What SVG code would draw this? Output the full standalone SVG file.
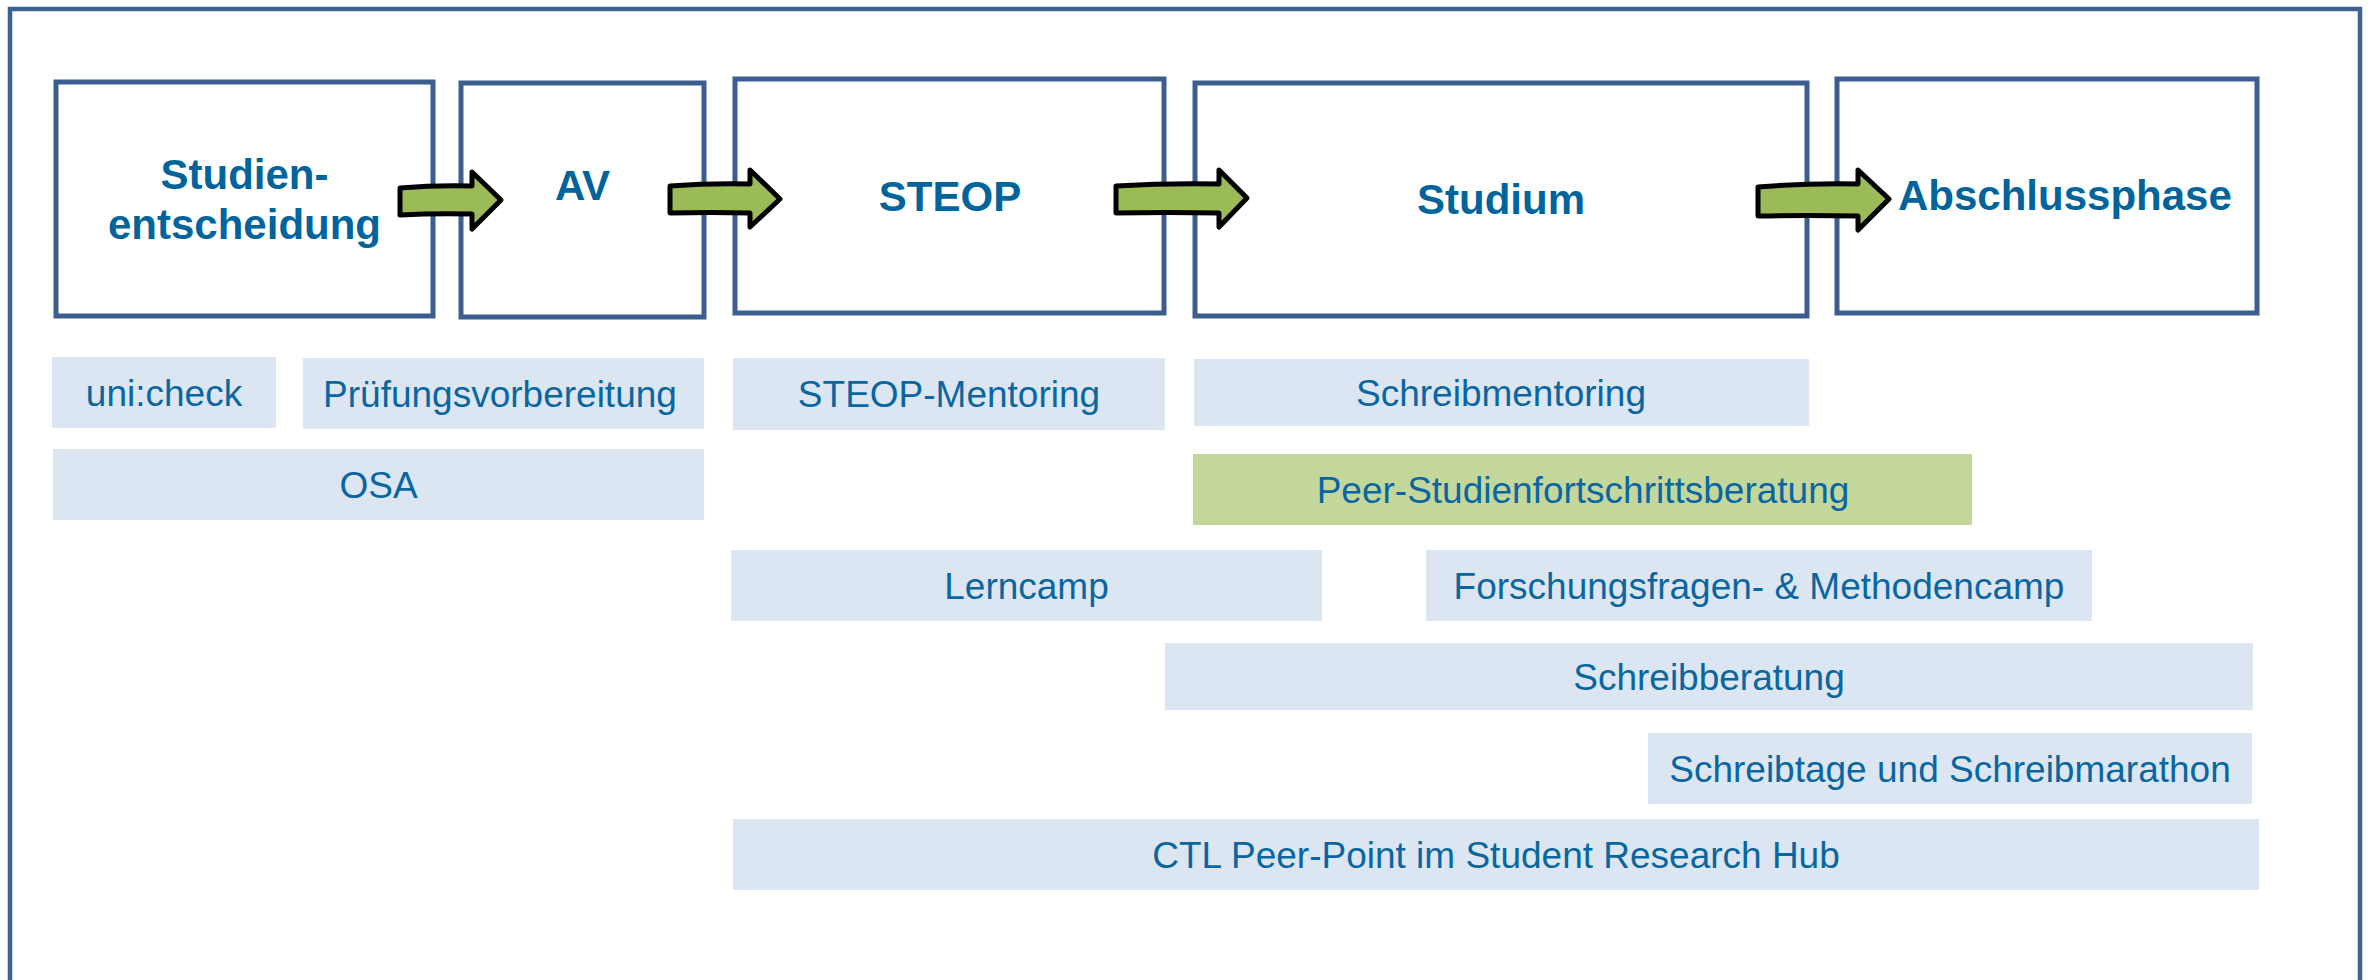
<svg xmlns="http://www.w3.org/2000/svg" width="2374" height="980" viewBox="0 0 2374 980">
<style>
.frame{fill:none;stroke:#3d6190;stroke-width:4.5}
.phase{fill:#ffffff;stroke:#3b5e8e;stroke-width:5}
.ttl{font-family:"Liberation Sans",Arial,sans-serif;font-weight:bold;font-size:42px;fill:#00649c}
.bar{fill:#dce6f2}
.bar.green{fill:#c4d79b}
.lbl{font-family:"Liberation Sans",Arial,sans-serif;font-size:37px;fill:#0a66a0;text-anchor:middle}
.arrow{fill:#9bbb59;stroke:#000000;stroke-width:5;stroke-linejoin:round}
</style>
<rect width="2374" height="980" fill="#ffffff"/>
<rect class="frame" x="10" y="9" width="2350" height="1010"/>

<g id="phase-studienentscheidung">
<rect class="phase" x="56" y="82" width="377" height="234"/>
<text class="ttl" x="244.5" y="189" text-anchor="middle">Studien-</text>
<text class="ttl" x="244.5" y="239" text-anchor="middle">entscheidung</text>
</g>
<g id="phase-av">
<rect class="phase" x="461" y="83" width="243" height="234"/>
<text class="ttl" x="582.5" y="200" text-anchor="middle">AV</text>
</g>
<g id="phase-steop">
<rect class="phase" x="735" y="79" width="429" height="234"/>
<text class="ttl" x="950" y="211" text-anchor="middle">STEOP</text>
</g>
<g id="phase-studium">
<rect class="phase" x="1195" y="83" width="612" height="233"/>
<text class="ttl" x="1501" y="214" text-anchor="middle">Studium</text>
</g>
<g id="phase-abschlussphase">
<rect class="phase" x="1837" y="79" width="420" height="234"/>
<text class="ttl" x="1898" y="210">Abschlussphase</text>
</g>

<g id="connectors">
<path class="arrow" d="M400,188 Q436,185 472,186 L472,172 L501,200 L472,229 L472,214 Q436,213 400,215 Z"/>
<path class="arrow" d="M670,186 Q710,183 750,184 L750,170 L780,199 L750,227 L750,213 Q710,212 670,213 Z"/>
<path class="arrow" d="M1116,186 Q1167,183 1219,184 L1219,170 L1247,198 L1219,227 L1219,213 Q1167,212 1116,213 Z"/>
<path class="arrow" d="M1758,187 Q1808,183 1858,184 L1858,170 L1889,199 L1858,230 L1858,216 Q1808,215 1758,216 Z"/>
</g>

<g id="offer-unicheck">
<rect class="bar" x="52" y="357" width="224" height="71"/>
<text class="lbl" x="164" y="405.5">uni:check</text>
</g>
<g id="offer-pruefungsvorbereitung">
<rect class="bar" x="303" y="358" width="401" height="71"/>
<text class="lbl" x="500" y="406.5">Prüfungsvorbereitung</text>
</g>
<g id="offer-steop-mentoring">
<rect class="bar" x="733" y="358" width="432" height="72"/>
<text class="lbl" x="949" y="407">STEOP-Mentoring</text>
</g>
<g id="offer-schreibmentoring">
<rect class="bar" x="1194" y="359" width="615" height="67"/>
<text class="lbl" x="1501" y="405.5">Schreibmentoring</text>
</g>
<g id="offer-osa">
<rect class="bar" x="53" y="449" width="651" height="71"/>
<text class="lbl" x="378.5" y="497.5">OSA</text>
</g>
<g id="offer-peer-studienfortschrittsberatung">
<rect class="bar green" x="1193" y="454" width="779" height="71"/>
<text class="lbl" x="1583" y="502.5">Peer-Studienfortschrittsberatung</text>
</g>
<g id="offer-lerncamp">
<rect class="bar" x="731" y="550" width="591" height="71"/>
<text class="lbl" x="1026.5" y="598.5">Lerncamp</text>
</g>
<g id="offer-forschungsfragen">
<rect class="bar" x="1426" y="550" width="666" height="71"/>
<text class="lbl" x="1759" y="598.5">Forschungsfragen- &amp; Methodencamp</text>
</g>
<g id="offer-schreibberatung">
<rect class="bar" x="1165" y="643" width="1088" height="67"/>
<text class="lbl" x="1709" y="689.5">Schreibberatung</text>
</g>
<g id="offer-schreibtage">
<rect class="bar" x="1648" y="733" width="604" height="71"/>
<text class="lbl" x="1950" y="781.5">Schreibtage und Schreibmarathon</text>
</g>
<g id="offer-ctl-peer-point">
<rect class="bar" x="733" y="819" width="1526" height="71"/>
<text class="lbl" x="1496" y="867.5">CTL Peer-Point im Student Research Hub</text>
</g>
</svg>
